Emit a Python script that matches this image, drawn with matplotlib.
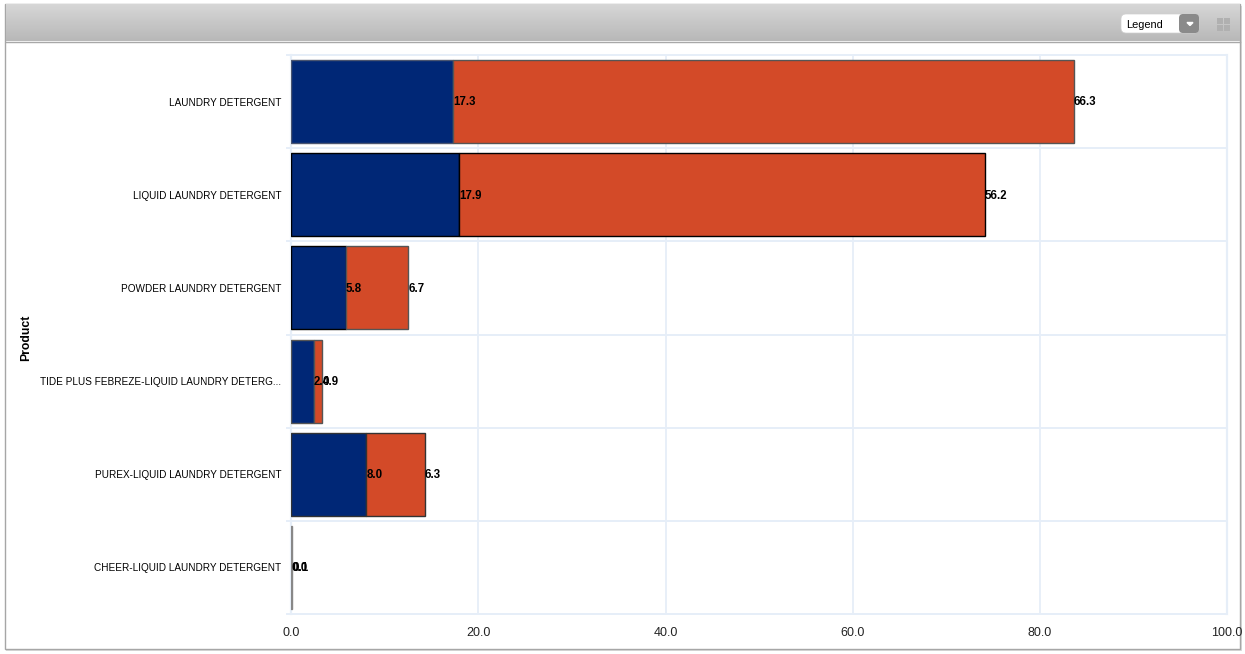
import numpy as np
import matplotlib
matplotlib.use('Agg')
import matplotlib.pyplot as plt
from matplotlib.patches import Rectangle, FancyBboxPatch

products = ['LAUNDRY DETERGENT', 'LIQUID LAUNDRY DETERGENT', 'POWDER LAUNDRY DETERGENT',
            'TIDE PLUS FEBREZE-LIQUID LAUNDRY DETERG...', 'PUREX-LIQUID LAUNDRY DETERGENT',
            'CHEER-LIQUID LAUNDRY DETERGENT']
series_a = [17.3, 17.9, 5.8, 2.4, 8.0, 0.0]
series_b = [66.3, 56.2, 6.7, 0.9, 6.3, 0.1]
xticks = [0, 20, 40, 60, 80, 100]
edge_a = ['#4a5570', '#000000', '#000000', '#555555', '#333333', '#888888']
edge_b = ['#555555', '#000000', '#555555', '#555555', '#333333', '#888888']

W, H = 1245, 654
plt.rcParams['font.family'] = ['Liberation Sans', 'DejaVu Sans']
fig = plt.figure(figsize=(W / 100, H / 100), dpi=100, facecolor='white')

# page-level furniture in pixel coordinates
bg = fig.add_axes([0, 0, 1, 1], zorder=0)
bg.set_xlim(0, W); bg.set_ylim(H, 0); bg.axis('off')
bg.add_patch(Rectangle((6, 6), 1236, 645, fc='#dcdcdc', ec='none'))
bg.add_patch(Rectangle((5, 4), 1235, 645, fc='white', ec='#a6a6a6', lw=1))
grad = np.linspace(0.84, 0.72, 64)[:, None]
bg.imshow(grad, extent=(5.5, 1239.5, 41, 4.5), cmap='gray', vmin=0, vmax=1, aspect='auto', zorder=1)
bg.set_xlim(0, W); bg.set_ylim(H, 0)
bg.plot([5.5, 1239.5], [41.5, 41.5], color='#a8a8a8', lw=1, zorder=2)
bg.add_patch(FancyBboxPatch((1121, 14), 78, 19, boxstyle='round,pad=0,rounding_size=5',
                            fc='white', ec='#d0d0d0', lw=0.5, zorder=3))
bg.add_patch(FancyBboxPatch((1179, 14), 20, 19, boxstyle='round,pad=0,rounding_size=4',
                            fc='#8a8a8a', ec='none', zorder=4))
bg.fill([1187, 1193, 1190], [22.5, 22.5, 25.5], color='white', zorder=5)
bg.text(1126, 24.5, 'Legend', fontsize=7.9, va='center', ha='left', color='black', zorder=5)
for dx in (-1, 1):
    for dy in (-1, 1):
        bg.add_patch(Rectangle((1223 + dx * 3.5 - 3, 24 + dy * 3.5 - 3), 6, 6, fc='#b0b0b0',
                               ec='none', zorder=3))
bg.text(26, 337.5, 'Product', rotation=90, fontsize=8.8, fontweight='bold', ha='center', va='center')

# plot area: x 0..100 spans 291..1227, six rows span 55..614
ax = fig.add_axes([291.3 / W, 1 - 614 / H, (1227 - 291.3) / W, (614 - 55) / H], zorder=2)
ax.patch.set_alpha(0)
y = np.arange(len(products))
ax.set_xlim(0, 100)
ax.set_ylim(len(products) - 0.5, -0.5)
for s in ax.spines.values():
    s.set_visible(False)

grid = '#e6eef8'
ax.set_axisbelow(True)
for t in xticks:
    ax.axvline(t, color=grid, lw=1.3 if 0 < t < 100 else 1.6, zorder=0, clip_on=False)
for k in np.arange(len(products) + 1) - 0.5:
    ax.plot([-0.5, 100], [k, k], color=grid, lw=1.4, zorder=0, clip_on=False)

ax.barh(y, series_a, height=0.89, color='#002776', edgecolor=edge_a, lw=1, zorder=2)
ax.barh(y, series_b, left=series_a, height=0.89, color='#d34a28', edgecolor=edge_b, lw=1, zorder=2)

for i in range(len(products)):
    ax.annotate(f'{series_a[i]:.1f}', (series_a[i], i), xytext=(0, -0.6), textcoords='offset points',
                fontsize=8.3, fontweight='bold', ha='left', va='center', color='black', zorder=4)
    ax.annotate(f'{series_b[i]:.1f}', (series_a[i] + series_b[i], i), xytext=(0, -0.6),
                textcoords='offset points', fontsize=8.3, fontweight='bold', ha='left', va='center',
                color='black', zorder=4)

ax.set_yticks(y, products)
ax.set_xticks(xticks, [f'{t:.1f}' for t in xticks])
ax.tick_params(axis='y', length=0, pad=7, labelsize=7.2, labelcolor='black')
ax.tick_params(axis='x', length=0, pad=9, labelsize=9.0, labelcolor='#222222')

fig.savefig('out.png', dpi=100)
